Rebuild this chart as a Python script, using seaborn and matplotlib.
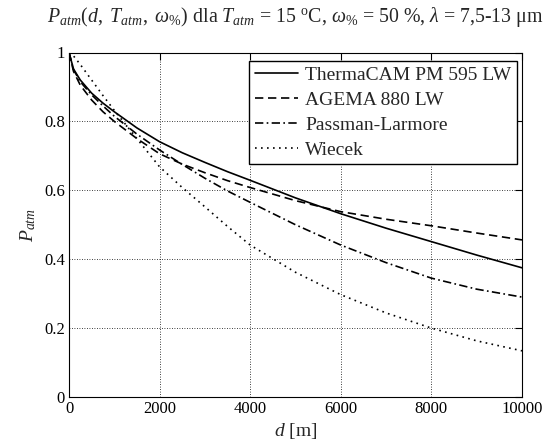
import numpy as np
import pandas as pd
import matplotlib
matplotlib.use("Agg")
import matplotlib.pyplot as plt
import seaborn as sns

# distance [m]
distance = [0, 100, 250, 500, 750, 1000, 1500, 2000, 2500, 3000, 3500,
            4000, 5000, 6000, 7000, 8000, 9000, 10000]

# atmospheric transmittance for each model
thermacam = [1.0, 0.952, 0.920, 0.882, 0.853, 0.828, 0.781, 0.741, 0.709,
             0.681, 0.654, 0.629, 0.578, 0.532, 0.490, 0.451, 0.412, 0.375]
agema = [1.0, 0.945, 0.905, 0.862, 0.828, 0.800, 0.750, 0.706, 0.676,
         0.651, 0.628, 0.608, 0.570, 0.538, 0.516, 0.497, 0.476, 0.456]
passman = [1.0, 0.950, 0.915, 0.877, 0.845, 0.815, 0.763, 0.717, 0.675,
           0.635, 0.598, 0.565, 0.500, 0.441, 0.390, 0.345, 0.313, 0.290]
wiecek = [1.0, 0.990, 0.965, 0.920, 0.875, 0.832, 0.750, 0.668, 0.608,
          0.552, 0.495, 0.441, 0.362, 0.297, 0.244, 0.200, 0.163, 0.134]

models = ["ThermaCAM PM 595 LW", "AGEMA 880 LW", "Passman-Larmore", "Wiecek"]
series = [thermacam, agema, passman, wiecek]

xticks = [0, 2000, 4000, 6000, 8000, 10000]
yticks = [0, 0.2, 0.4, 0.6, 0.8, 1]

df = pd.concat(
    [pd.DataFrame({"d": distance, "P": vals, "model": name})
     for name, vals in zip(models, series)],
    ignore_index=True,
)

sns.set_style("white")
plt.rcParams["font.family"] = ["Liberation Serif", "DejaVu Serif"]
plt.rcParams["mathtext.fontset"] = "custom"
plt.rcParams["mathtext.rm"] = "Liberation Serif"
plt.rcParams["mathtext.it"] = "Liberation Serif:italic"
plt.rcParams["mathtext.bf"] = "Liberation Serif:bold"

fig = plt.figure(figsize=(5.48, 4.43), dpi=100)
ax = fig.add_axes([69 / 548, 1 - 397 / 443, 453 / 548, 344.5 / 443])

dash_styles = {
    models[0]: "",
    models[1]: (5, 2.8),
    models[2]: (5, 2, 1, 2),
    models[3]: (1, 2.6),
}

sns.lineplot(
    data=df, x="d", y="P", hue="model", style="model",
    palette=["black"] * 4, dashes=dash_styles, linewidth=1.2,
    ax=ax, legend=True,
)

ax.set_xlim(0, 10000)
ax.set_ylim(0, 1)
ax.set_xticks(xticks)
ax.set_yticks(yticks)
ax.set_xticklabels([str(t) for t in xticks])
ax.set_yticklabels(["0", "0.2", "0.4", "0.6", "0.8", "1"])
ax.tick_params(direction="in", length=5, width=0.8, top=True, right=True,
               labelsize=12, colors="black", pad=3)
ax.grid(True, color="black", linestyle=(0, (1, 2)), linewidth=0.6)
for s in ax.spines.values():
    s.set_visible(True)
    s.set_color("black")
    s.set_linewidth(0.8)

ax.set_xlabel("$d$ [m]", fontsize=14, labelpad=3)
ax.set_ylabel("$P_{atm}$", fontsize=14, labelpad=4)
ax.set_title(r"$P_{atm}(d,\ T_{atm},\ \omega_{\%})$ dla $T_{atm}$ = 15 $^{\mathrm{o}}$C, "
             r"$\omega_{\%}$ = 50 %, $\lambda$ = 7,5-13 μm",
             fontsize=14.3, pad=22)

leg = ax.legend(loc="upper right", bbox_to_anchor=(0.9896, 0.976),
                borderaxespad=0, fontsize=14, frameon=True, fancybox=False,
                handlelength=2.2, handletextpad=0.4, labelspacing=0.37,
                borderpad=0.3)
leg.get_frame().set_edgecolor("black")
leg.get_frame().set_linewidth(1.0)
leg.get_frame().set_alpha(1)
for line in leg.get_lines():
    line.set_linewidth(1.2)

fig.savefig("out.png", dpi=100)
